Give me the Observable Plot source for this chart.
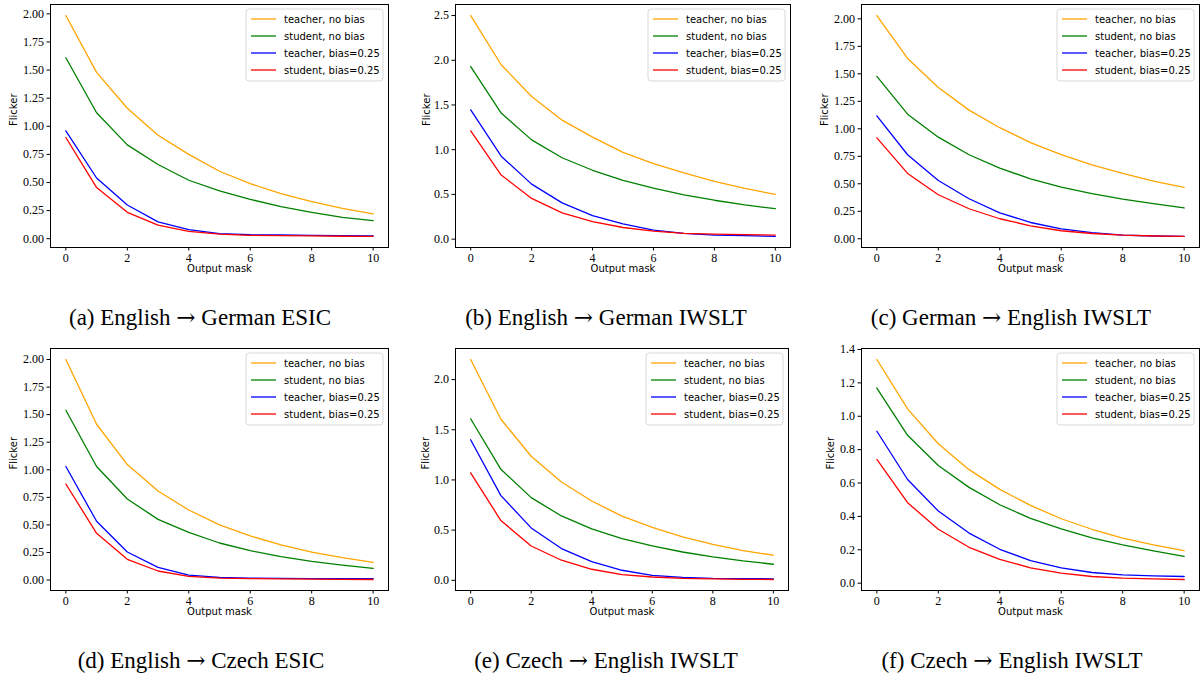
<!DOCTYPE html>
<html>
<head>
<meta charset="utf-8">
<script src="https://cdn.jsdelivr.net/npm/d3@7"></script>
<script src="https://cdn.jsdelivr.net/npm/@observablehq/plot@0.6"></script>
<style>
  html, body { margin: 0; padding: 0; background: #fff; }
  #root { position: relative; width: 1203px; height: 680px; overflow: hidden; background: #fff; }
  #root svg.panel { position: absolute; }
  #captions { position: absolute; left: 0; top: 0; }
</style>
</head>
<body>
<div id="root"></div>
<script>
// ---------------- DATA ----------------
const outputMask = [0, 1, 2, 3, 4, 5, 6, 7, 8, 9, 10];
const seriesNames = ["teacher, no bias", "student, no bias", "teacher, bias=0.25", "student, bias=0.25"];
const xTicks = [0, 2, 4, 6, 8, 10];

// (a) English → German ESIC
const aTeacherNoBias = [1.985, 1.48, 1.16, 0.92, 0.75, 0.60, 0.49, 0.40, 0.33, 0.27, 0.22];
const aStudentNoBias = [1.61, 1.12, 0.835, 0.66, 0.52, 0.425, 0.35, 0.285, 0.235, 0.19, 0.16];
const aTeacherBias   = [0.96, 0.54, 0.30, 0.15, 0.08, 0.045, 0.035, 0.033, 0.03, 0.028, 0.025];
const aStudentBias   = [0.90, 0.455, 0.235, 0.12, 0.065, 0.04, 0.03, 0.028, 0.025, 0.022, 0.02];
// (b) English → German IWSLT
const bTeacherNoBias = [2.5, 1.95, 1.595, 1.33, 1.14, 0.97, 0.845, 0.74, 0.645, 0.567, 0.50];
const bStudentNoBias = [1.93, 1.41, 1.11, 0.91, 0.77, 0.657, 0.57, 0.495, 0.435, 0.383, 0.34];
const bTeacherBias   = [1.445, 0.927, 0.615, 0.405, 0.263, 0.17, 0.10, 0.065, 0.045, 0.04, 0.03];
const bStudentBias   = [1.21, 0.717, 0.455, 0.293, 0.195, 0.13, 0.09, 0.065, 0.055, 0.05, 0.045];
// (c) German → English IWSLT
const cTeacherNoBias = [2.03, 1.64, 1.375, 1.17, 1.01, 0.875, 0.765, 0.673, 0.594, 0.524, 0.467];
const cStudentNoBias = [1.476, 1.133, 0.924, 0.764, 0.642, 0.545, 0.47, 0.41, 0.36, 0.32, 0.28];
const cTeacherBias   = [1.118, 0.764, 0.53, 0.364, 0.236, 0.148, 0.09, 0.055, 0.033, 0.025, 0.021];
const cStudentBias   = [0.918, 0.594, 0.40, 0.273, 0.182, 0.118, 0.073, 0.048, 0.033, 0.025, 0.021];
// (d) English → Czech ESIC
const dTeacherNoBias = [2.0, 1.413, 1.047, 0.808, 0.635, 0.50, 0.40, 0.318, 0.254, 0.203, 0.16];
const dStudentNoBias = [1.54, 1.03, 0.735, 0.55, 0.433, 0.336, 0.266, 0.212, 0.17, 0.136, 0.106];
const dTeacherBias   = [1.03, 0.533, 0.254, 0.115, 0.045, 0.025, 0.018, 0.015, 0.013, 0.012, 0.012];
const dStudentBias   = [0.871, 0.424, 0.188, 0.082, 0.033, 0.018, 0.013, 0.01, 0.008, 0.006, 0.005];
// (e) Czech → English IWSLT
const eTeacherNoBias = [2.2, 1.605, 1.236, 0.98, 0.79, 0.64, 0.528, 0.432, 0.359, 0.296, 0.25];
const eStudentNoBias = [1.61, 1.106, 0.824, 0.641, 0.512, 0.415, 0.342, 0.282, 0.233, 0.193, 0.16];
const eTeacherBias   = [1.40, 0.844, 0.522, 0.316, 0.186, 0.10, 0.05, 0.03, 0.02, 0.017, 0.015];
const eStudentBias   = [1.07, 0.595, 0.342, 0.20, 0.11, 0.056, 0.033, 0.02, 0.015, 0.01, 0.008];
// (f) Czech → English IWSLT
const fTeacherNoBias = [1.34, 1.044, 0.835, 0.68, 0.562, 0.466, 0.386, 0.323, 0.27, 0.229, 0.195];
const fStudentNoBias = [1.169, 0.886, 0.705, 0.574, 0.47, 0.388, 0.325, 0.271, 0.229, 0.193, 0.161];
const fTeacherBias   = [0.91, 0.621, 0.432, 0.30, 0.203, 0.135, 0.092, 0.064, 0.05, 0.044, 0.04];
const fStudentBias   = [0.741, 0.482, 0.323, 0.215, 0.143, 0.092, 0.06, 0.04, 0.03, 0.026, 0.022];

const yTicksQuarter = [0, 0.25, 0.5, 0.75, 1.0, 1.25, 1.5, 1.75, 2.0];
const yTicksHalf25  = [0, 0.5, 1.0, 1.5, 2.0, 2.5];
const yTicksHalf20  = [0, 0.5, 1.0, 1.5, 2.0];
const yTicksFifth   = [0, 0.2, 0.4, 0.6, 0.8, 1.0, 1.2, 1.4];

// caption parts: [before arrow, after arrow]
const captions = [
  ["(a) English", "German ESIC"],
  ["(b) English", "German IWSLT"],
  ["(c) German", "English IWSLT"],
  ["(d) English", "Czech ESIC"],
  ["(e) Czech", "English IWSLT"],
  ["(f) Czech", "English IWSLT"]
];

// ---------------- STYLE / LAYOUT ----------------
const seriesColors = ["#FFA500", "#008000", "#0000FF", "#FF0000"];
const SERIF = "'Liberation Serif', 'Times New Roman', serif";
const SANS = "'DejaVu Sans', sans-serif";

const panels = [
  {series: [aTeacherNoBias, aStudentNoBias, aTeacherBias, aStudentBias], yTicks: yTicksQuarter, fmt: ".2f", frame: [50, 388, 4, 247], labelDx: -37},
  {series: [bTeacherNoBias, bStudentNoBias, bTeacherBias, bStudentBias], yTicks: yTicksHalf25, fmt: ".1f", frame: [455, 790, 4, 247], labelDx: -29},
  {series: [cTeacherNoBias, cStudentNoBias, cTeacherBias, cStudentBias], yTicks: yTicksQuarter, fmt: ".2f", frame: [861, 1199, 4, 247], labelDx: -37},
  {series: [dTeacherNoBias, dStudentNoBias, dTeacherBias, dStudentBias], yTicks: yTicksQuarter, fmt: ".2f", frame: [50, 388, 348, 590], labelDx: -37},
  {series: [eTeacherNoBias, eStudentNoBias, eTeacherBias, eStudentBias], yTicks: yTicksHalf20, fmt: ".1f", frame: [455, 788, 348, 590], labelDx: -30},
  {series: [fTeacherNoBias, fStudentNoBias, fTeacherBias, fStudentBias], yTicks: yTicksFifth, fmt: ".1f", frame: [861, 1199, 348, 590], labelDx: -31}
];
const captionPos = [[200, 325], [606, 325], [1011, 325], [201, 668], [606, 668], [1012, 668]];

const root = document.getElementById("root");
const mL = 50, mT = 6, mR = 12, mB = 34;

panels.forEach((p) => {
  const [fl, fr, ft, fb] = p.frame;
  const rows = [];
  p.series.forEach((vals, si) => vals.forEach((v, i) => rows.push({x: outputMask[i], y: v, s: seriesNames[si]})));
  const allY = rows.map(r => r.y);
  const lo = d3.min(allY), hi = d3.max(allY), pad = (hi - lo) * 0.05;
  const width = (fr - fl) + mL + mR;
  const height = (fb - ft) + mT + mB;

  const chart = Plot.plot({
    width, height,
    marginLeft: mL, marginRight: mR, marginTop: mT, marginBottom: mB,
    style: {fontFamily: SERIF, fontSize: "12px", background: "transparent", overflow: "visible"},
    x: {domain: [-0.5, 10.5]},
    y: {domain: [lo - pad, hi + pad]},
    color: {domain: seriesNames, range: seriesColors},
    marks: [
      Plot.line(rows, {x: "x", y: "y", z: "s", stroke: "s", strokeWidth: 1.3}),
      Plot.frame({stroke: "black", strokeWidth: 1}),
      Plot.axisX({ticks: xTicks, tickSize: 3.5, tickPadding: 2, label: null, tickFormat: d => String(d), fontFamily: SERIF, fontSize: 12}),
      Plot.axisY({ticks: p.yTicks, tickSize: 3.5, tickPadding: 3, label: null, tickFormat: d3.format(p.fmt), fontFamily: SERIF, fontSize: 12}),
      Plot.text(["Flicker"], {frameAnchor: "left", dx: p.labelDx, rotate: -90, fontFamily: SANS, fontSize: 10, fill: "black"}),
      Plot.text(["Output mask"], {frameAnchor: "bottom", dy: 24, fontFamily: SANS, fontSize: 10, fill: "black"})
    ]
  });
  chart.classList.add("panel");
  chart.style.left = (fl - mL) + "px";
  chart.style.top = (ft - mT) + "px";
  root.appendChild(chart);

  // legend (upper right, inside frame)
  const svg = d3.select(chart);
  const boxW = 137, boxH = 72;
  const bx = (width - mR) - 5 - boxW, by = mT + 5;
  const g = svg.append("g").attr("text-anchor", "start");
  g.append("rect").attr("x", bx).attr("y", by).attr("width", boxW).attr("height", boxH)
    .attr("rx", 3).attr("fill", "white").attr("fill-opacity", 0.8)
    .attr("stroke", "#d9d9d9").attr("stroke-width", 1);
  seriesNames.forEach((name, i) => {
    const yy = by + 10 + i * 17;
    g.append("line").attr("x1", bx + 5).attr("x2", bx + 30).attr("y1", yy).attr("y2", yy)
      .attr("stroke", seriesColors[i]).attr("stroke-width", 1.3);
    g.append("text").attr("x", bx + 38).attr("y", yy).attr("dy", "0.35em")
      .attr("text-anchor", "start")
      .attr("font-family", SANS).attr("font-size", 10).attr("fill", "black").text(name);
  });
});

// captions
const capSvg = d3.select(root).append("svg").attr("id", "captions").attr("width", 1203).attr("height", 680);
captions.forEach((c, i) => {
  const t = capSvg.append("text").attr("x", captionPos[i][0]).attr("y", captionPos[i][1])
    .attr("text-anchor", "middle").attr("font-family", SERIF).attr("font-size", 23)
    .attr("fill", "black");
  t.append("tspan").text(c[0] + " ");
  t.append("tspan").attr("font-family", "'DejaVu Serif', serif").attr("font-size", 23).attr("font-weight", 200).text("\u2192");
  t.append("tspan").text(" " + c[1]);
});
</script>
</body>
</html>
